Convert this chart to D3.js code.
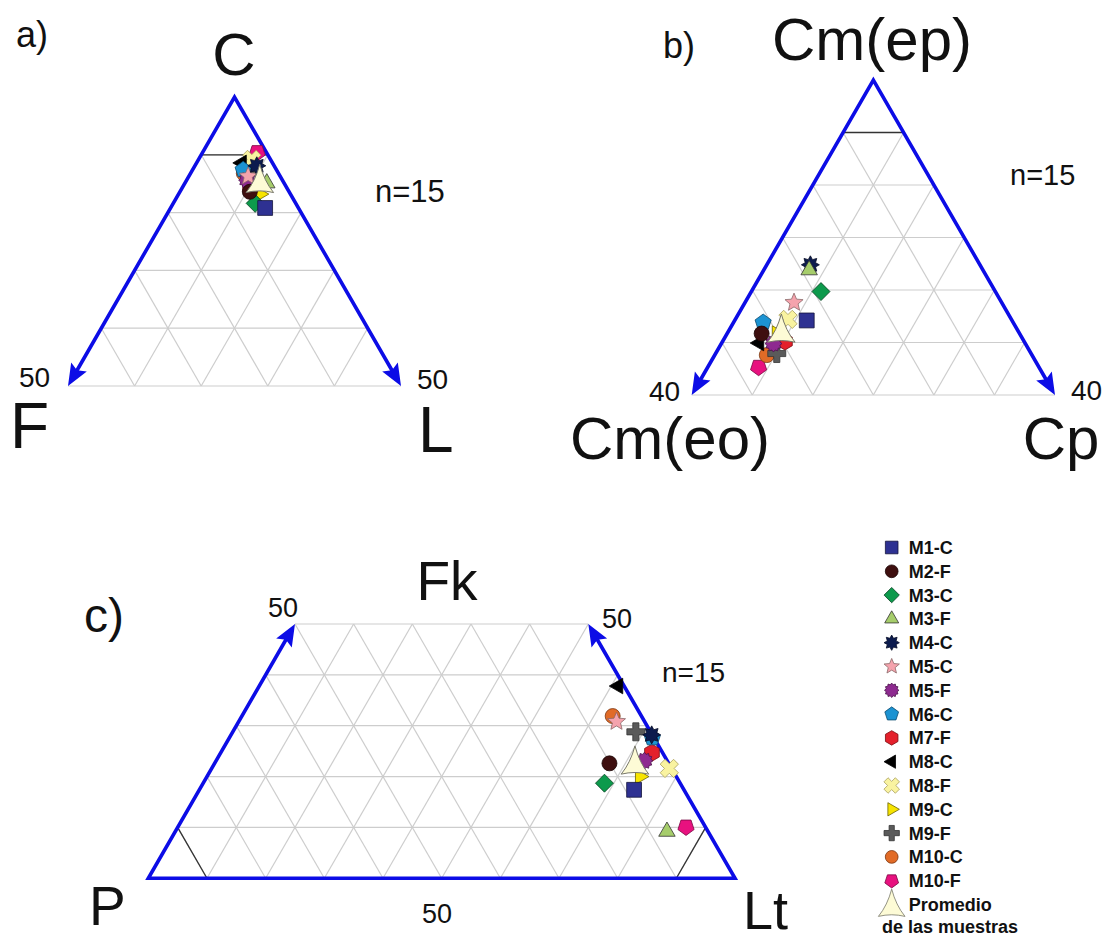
<!DOCTYPE html>
<html>
<head>
<meta charset="utf-8">
<script src="https://cdn.jsdelivr.net/npm/d3@7"></script>
<style>
  body { margin: 0; background: #fff; }
  svg { display: block; }
  text { font-family: "Liberation Sans", Arial, sans-serif; fill: #111; }
</style>
</head>
<body>
<svg id="chart" width="1111" height="937"></svg>
<script>
var samples = ["M1-C", "M2-F", "M3-C", "M3-F", "M4-C", "M5-C", "M5-F", "M6-C",
               "M7-F", "M8-C", "M8-F", "M9-C", "M9-F", "M10-C", "M10-F"];

// a) C - F - L (%)
var aC = [80.8, 83.6, 81.6, 85.1, 88.1, 86.3, 85.6, 87.4, 84.3, 88.6, 89.2, 83.2, 87.0, 86.8, 90.4];
var aF = [5.0, 5.9, 6.1, 2.6, 2.6, 4.8, 5.3, 5.0, 5.5, 4.6, 2.8, 4.6, 4.5, 5.2, 1.4];
var aL = [14.2, 10.5, 12.3, 12.3, 9.3, 8.9, 9.1, 7.6, 10.2, 6.8, 8.0, 12.2, 8.5, 8.0, 8.2];
var aAvg = [85.6, 3.4, 11.0];          // C, F, L

// b) Cm(ep) - Cm(eo) - Cp (%)
var bEp = [54.2, 51.7, 59.7, 63.8, 64.8, 57.6, 49.8, 53.8, 50.2, 49.9, 54.4, 51.7, 47.9, 47.6, 45.3];
var bEo = [33.9, 42.6, 28.8, 28.7, 28.0, 34.3, 41.6, 41.3, 39.5, 43.9, 36.9, 40.1, 42.0, 43.8, 46.3];
var bCp = [11.9, 5.7, 11.5, 7.5, 7.2, 8.1, 8.6, 4.9, 10.3, 6.2, 8.7, 8.2, 10.1, 8.6, 8.4];
var bAvg = [52.4, 39.0, 8.6];          // Cm(ep), Cm(eo), Cp

// c) Fk - P - Lt (%)
var cFk = [17.4, 22.6, 18.7, 9.2, 28.2, 30.8, 23.1, 27.6, 24.7, 37.8, 21.6, 20.0, 28.8, 31.9, 10.1];
var cP  = [8.5, 10.1, 12.9, 7.0, 0.1, 4.8, 3.9, 0.3, 1.8, 1.0, 0.4, 6.2, 2.5, 4.9, 3.3];
var cLt = [74.1, 67.3, 68.4, 83.8, 71.7, 64.4, 73.0, 72.1, 73.5, 61.2, 78.0, 73.8, 68.7, 63.2, 86.6];
var cAvg = [22.9, 5.6, 71.5];          // Fk, P, Lt

var aTicks = ["50", "50"];
var bTicks = ["40", "40"];
var cTicks = ["50", "50", "50"];
var nLabel = "n=15";
var avgLabel = ["Promedio", "de las muestras"];

var BLUE = "#0c0ce6", GRID = "#cdcdcd";

// ---- marker shapes (size = radius squared) ----
function regular(n, rot) {
  return { draw: function(ctx, size) {
    var r = Math.sqrt(size);
    for (var i = 0; i < n; i++) {
      var a = rot + i * 2 * Math.PI / n;
      if (i) ctx.lineTo(r * Math.cos(a), r * Math.sin(a));
      else ctx.moveTo(r * Math.cos(a), r * Math.sin(a));
    }
    ctx.closePath();
  }};
}
function starShape(n, inner, rot) {
  return { draw: function(ctx, size) {
    var r = Math.sqrt(size);
    for (var i = 0; i < 2 * n; i++) {
      var a = rot + i * Math.PI / n, rr = i % 2 ? r * inner : r;
      if (i) ctx.lineTo(rr * Math.cos(a), rr * Math.sin(a));
      else ctx.moveTo(rr * Math.cos(a), rr * Math.sin(a));
    }
    ctx.closePath();
  }};
}
function plusShape(rot, wf) {
  return { draw: function(ctx, size) {
    var r = Math.sqrt(size), w = r * wf;
    var pts = [[-w,-r],[w,-r],[w,-w],[r,-w],[r,w],[w,w],[w,r],[-w,r],[-w,w],[-r,w],[-r,-w],[-w,-w]];
    var c = Math.cos(rot), s = Math.sin(rot);
    pts.forEach(function(p, i) {
      var x = p[0] * c - p[1] * s, y = p[0] * s + p[1] * c;
      if (i) ctx.lineTo(x, y); else ctx.moveTo(x, y);
    });
    ctx.closePath();
  }};
}
var circleShape = { draw: function(ctx, size) {
  var r = Math.sqrt(size);
  ctx.moveTo(r, 0); ctx.arc(0, 0, r, 0, 2 * Math.PI); ctx.closePath();
}};
// curved-side triangle used for the sample mean
var avgShape = { draw: function(ctx, size) {
  var r = Math.sqrt(size);
  ctx.moveTo(0, -1.1 * r);
  ctx.quadraticCurveTo(-0.3 * r, 0.05 * r, -0.95 * r, 0.85 * r);
  ctx.quadraticCurveTo(0, 0.62 * r, 0.95 * r, 0.85 * r);
  ctx.quadraticCurveTo(0.3 * r, 0.05 * r, 0, -1.1 * r);
  ctx.closePath();
}};

var styles = {
  "M1-C":  { type: regular(4, Math.PI / 4), r: 10.5, fill: "#2e3192", stroke: "#15153c" },
  "M2-F":  { type: circleShape, r: 7.5, fill: "#3e0f0f", stroke: "#1a0505" },
  "M3-C":  { type: regular(4, -Math.PI / 2), r: 9, fill: "#0d9a4c", stroke: "#064020" },
  "M3-F":  { type: regular(3, -Math.PI / 2), r: 9.5, fill: "#a6cd6b", stroke: "#333" },
  "M4-C":  { type: starShape(8, 0.62, -Math.PI / 2), r: 9, fill: "#0c1b4e", stroke: "#050b25" },
  "M5-C":  { type: starShape(5, 0.45, -Math.PI / 2), r: 9.5, fill: "#f5a3ad", stroke: "#8a6868" },
  "M5-F":  { type: starShape(12, 0.78, -Math.PI / 2), r: 8.5, fill: "#8e2a90", stroke: "#4a124a" },
  "M6-C":  { type: regular(5, -Math.PI / 2), r: 8.5, fill: "#1c93d2", stroke: "#0b4a6e" },
  "M7-F":  { type: regular(6, -Math.PI / 2), r: 8.5, fill: "#e4202b", stroke: "#7a0c10" },
  "M8-C":  { type: regular(3, Math.PI), r: 9, fill: "#000", stroke: "#000" },
  "M8-F":  { type: plusShape(Math.PI / 4, 0.36), r: 9.5, fill: "#f9f3a0", stroke: "#a9a05c" },
  "M9-C":  { type: regular(3, 0), r: 9, fill: "#f7e400", stroke: "#6b6200" },
  "M9-F":  { type: plusShape(0, 0.34), r: 9, fill: "#5a5a5a", stroke: "#333" },
  "M10-C": { type: circleShape, r: 7.5, fill: "#e16b27", stroke: "#7a3510" },
  "M10-F": { type: regular(5, Math.PI / 2), r: 8.5, fill: "#e8117f", stroke: "#7a0842" },
  "avg":   { type: avgShape, r: 14.5, fill: "#fdfbd6", stroke: "#77776a" }
};

var svg = d3.select("#chart");

function drawPanel(cfg) {
  var g = svg.append("g");
  var x = d3.scaleLinear().domain([cfg.tMin / 2, 100 - cfg.tMin / 2]).range([cfg.x0, cfg.x1]);
  var y = d3.scaleLinear().domain([cfg.tMin, cfg.tMax]).range([cfg.yBase, cfg.yTop]);
  // t = top component, r = right-corner component
  function p(t, r) { return [x(r + t / 2), y(t)]; }
  function seg(kind, v) {
    if (kind === "t") return [p(v, 0), p(v, 100 - v)];
    var hi = Math.min(cfg.tMax, 100 - v);
    if (hi <= cfg.tMin) return null;
    if (kind === "r") return [p(cfg.tMin, v), p(hi, v)];
    return [p(cfg.tMin, 100 - v - cfg.tMin), p(hi, 100 - v - hi)];
  }

  var segs = [];
  d3.range(10, 100, 10).forEach(function(v) {
    if (v > cfg.tMin && v < cfg.tMax) segs.push(seg("t", v));
    ["r", "l"].forEach(function(k) { var s = seg(k, v); if (s) segs.push(s); });
  });
  if (cfg.grayBottom) segs.push(seg("t", cfg.tMin));
  if (cfg.tMax < 100) segs.push(seg("t", cfg.tMax));

  var line = d3.line();
  g.selectAll("path.grid").data(segs).enter().append("path")
    .attr("class", "grid").attr("d", line)
    .attr("fill", "none").attr("stroke", GRID).attr("stroke-width", 1.2);

  g.selectAll("path.ref").data(cfg.black.map(function(b) { return seg(b[0], b[1]); }))
    .enter().append("path").attr("class", "ref").attr("d", line)
    .attr("fill", "none").attr("stroke", "#333").attr("stroke-width", 1.3);

  // blue frame with arrowheads
  var L = 22, W = 9;
  function arrowInfo(tip, from) {
    var dx = from[0] - tip[0], dy = from[1] - tip[1], len = Math.hypot(dx, dy);
    return { tip: tip, ux: dx / len, uy: dy / len };
  }
  var leftLow = p(cfg.tMin, 0), leftHigh = p(cfg.tMax, 0);
  var rightLow = p(cfg.tMin, 100 - cfg.tMin), rightHigh = p(cfg.tMax, 100 - cfg.tMax);
  var arrows, pts;
  function back(a, k) { return [a.tip[0] + a.ux * L * k, a.tip[1] + a.uy * L * k]; }
  if (cfg.arrowsAt === "bottom") {
    arrows = [arrowInfo(leftLow, leftHigh), arrowInfo(rightLow, rightHigh)];
    pts = [back(arrows[0], 0.8), leftHigh, back(arrows[1], 0.8)];
  } else {
    arrows = [arrowInfo(leftHigh, leftLow), arrowInfo(rightHigh, rightLow)];
    pts = [back(arrows[0], 0.8), leftLow, rightLow, back(arrows[1], 0.8)];
  }
  g.append("path").attr("d", line(pts)).attr("fill", "none")
    .attr("stroke", BLUE).attr("stroke-width", 3.6).attr("stroke-linejoin", "miter");
  g.selectAll("path.arrow").data(arrows).enter().append("path").attr("class", "arrow")
    .attr("d", function(a) {
      var b = back(a, 1), nx = -a.uy * W, ny = a.ux * W;
      return line([a.tip, [b[0] + nx, b[1] + ny], back(a, 0.82), [b[0] - nx, b[1] - ny]]) + "Z";
    })
    .attr("fill", BLUE);

  // points (drawn last-to-first, mean on top)
  var pointData = samples.map(function(s, i) {
    var sum = cfg.top[i] + cfg.left[i] + cfg.right[i];
    return { key: s, t: cfg.top[i] / sum * 100, r: cfg.right[i] / sum * 100 };
  }).reverse();
  var avgSum = cfg.avg[0] + cfg.avg[1] + cfg.avg[2];
  pointData.push({ key: "avg", t: cfg.avg[0] / avgSum * 100, r: cfg.avg[2] / avgSum * 100 });

  g.selectAll("path.pt").data(pointData).enter().append("path").attr("class", "pt")
    .attr("transform", function(d) { var q = p(d.t, d.r); return "translate(" + q[0] + "," + q[1] + ")"; })
    .attr("d", function(d) { var st = styles[d.key]; return d3.symbol(st.type, st.r * st.r)(); })
    .attr("fill", function(d) { return styles[d.key].fill; })
    .attr("stroke", function(d) { return styles[d.key].stroke; })
    .attr("stroke-width", function(d) { return d.key === "avg" ? 1 : 0.8; });

  g.selectAll("text").data(cfg.labels).enter().append("text")
    .attr("x", function(d) { return d[1]; }).attr("y", function(d) { return d[2]; })
    .attr("font-size", function(d) { return d[3]; })
    .attr("text-anchor", function(d) { return d[4] || "start"; })
    .text(function(d) { return d[0]; });
}

drawPanel({
  top: aC, left: aF, right: aL, avg: aAvg,
  tMin: 50, tMax: 100, x0: 68, x1: 401, yBase: 386, yTop: 97,
  arrowsAt: "bottom", grayBottom: true, black: [["t", 90]],
  labels: [["a)", 16, 47, 36], ["C", 234, 75, 60, "middle"], ["F", 10, 448, 64], ["L", 418, 452, 64],
           [aTicks[0], 19, 387, 28], [aTicks[1], 417, 389, 28], [nLabel, 375, 202, 31]]
});

drawPanel({
  top: bEp, left: bEo, right: bCp, avg: bAvg,
  tMin: 40, tMax: 100, x0: 691.7, x1: 1055, yBase: 395, yTop: 80,
  arrowsAt: "bottom", grayBottom: true, black: [["t", 90]],
  labels: [["b)", 663, 58, 36], ["Cm(ep)", 872, 60, 60, "middle"], ["Cm(eo)", 670, 459, 60, "middle"],
           ["Cp", 1061, 459, 60, "middle"], [bTicks[0], 649, 401, 28], [bTicks[1], 1071, 400, 28],
           [nLabel, 1010, 185, 29]]
});

drawPanel({
  top: cFk, left: cP, right: cLt, avg: cAvg,
  tMin: 0, tMax: 50, x0: 148.3, x1: 735, yBase: 878.3, yTop: 624,
  arrowsAt: "top", grayBottom: false, black: [["l", 90], ["r", 90]],
  labels: [["c)", 84, 632, 48], ["Fk", 447, 600, 55, "middle"], ["P", 89, 925, 55], ["Lt", 743, 929, 54],
           [cTicks[0], 268, 617, 27], [cTicks[1], 602, 628, 27], [cTicks[2], 422, 923, 27],
           [nLabel, 662, 682, 28]]
});

// legend
var legKeys = samples.concat(["avg"]);
var legY = d3.scalePoint().domain(legKeys).range([547.5, 904.5]);
var leg = svg.append("g");
var legItems = leg.selectAll("g").data(legKeys).enter().append("g")
  .attr("transform", function(d) { return "translate(891.7," + legY(d) + ")"; });
legItems.append("path")
  .attr("d", function(d) {
    var st = styles[d], r = d === "avg" ? 14 : st.r * 0.85;
    return d3.symbol(st.type, r * r)();
  })
  .attr("fill", function(d) { return styles[d].fill; })
  .attr("stroke", function(d) { return styles[d].stroke; })
  .attr("stroke-width", 0.8);
legItems.append("text")
  .attr("x", 17).attr("dy", "0.36em")
  .attr("font-size", 18).attr("font-weight", "bold")
  .text(function(d) { return d === "avg" ? avgLabel[0] : d; });
leg.append("text")
  .attr("x", 882).attr("y", legY("avg") + 22).attr("dy", "0.36em")
  .attr("font-size", 18).attr("font-weight", "bold")
  .text(avgLabel[1]);
</script>
</body>
</html>
